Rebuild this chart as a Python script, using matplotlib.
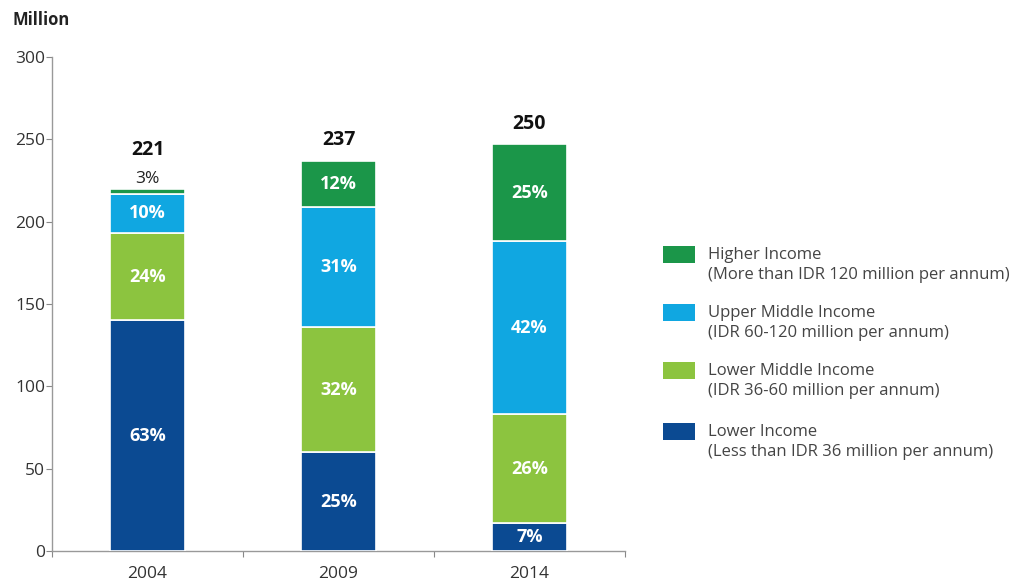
import matplotlib
matplotlib.use('Agg')
import matplotlib.pyplot as plt
from matplotlib.patches import Rectangle
import numpy as np

plt.rcParams['font.family'] = ['Open Sans', 'DejaVu Sans']

years = ['2004', '2009', '2014']
totals = [221, 237, 250]

# segment heights (million), bottom to top
lower = [140, 60, 17]
lower_mid = [53, 76, 66]
upper_mid = [24, 73, 105]
higher = [3, 28, 59]

pct_lower = ['63%', '25%', '7%']
pct_lower_mid = ['24%', '32%', '26%']
pct_upper_mid = ['10%', '31%', '42%']
pct_higher = ['3%', '12%', '25%']

series = [
    ('Lower Income', '(Less than IDR 36 million per annum)', lower, pct_lower, '#0b4a92'),
    ('Lower Middle Income', '(IDR 36-60 million per annum)', lower_mid, pct_lower_mid, '#8cc43f'),
    ('Upper Middle Income', '(IDR 60-120 million per annum)', upper_mid, pct_upper_mid, '#10a7e1'),
    ('Higher Income', '(More than IDR 120 million per annum)', higher, pct_higher, '#1b9649'),
]

W, H = 1024, 583
fig = plt.figure(figsize=(W / 100, H / 100), dpi=100)
fig.patch.set_facecolor('white')
ax = fig.add_axes([52 / W, 1 - 551 / H, (625 - 52) / W, (551 - 57) / H])

x = np.arange(len(years))
bottom = np.zeros(len(years))
for name, sub, vals, pcts, col in series:
    ax.bar(x, vals, width=0.39, bottom=bottom, color=col,
           edgecolor='white', linewidth=1.2, zorder=3)
    for i, (v, p) in enumerate(zip(vals, pcts)):
        if v >= 10:
            ax.text(x[i], bottom[i] + v / 2, p, ha='center', va='center',
                    color='white', fontsize=13, fontweight='bold', zorder=4)
        else:
            ax.text(x[i], bottom[i] + v + 6, p, ha='center', va='center',
                    color='#222222', fontsize=12.5, zorder=4)
    bottom += np.array(vals)

for i, t in enumerate(totals):
    extra = 11 if i == 0 else 0
    ax.text(x[i], bottom[i] + 12.5 + extra, str(t), ha='center', va='center',
            fontsize=14, fontweight='bold', color='#111111')

ax.set_xlim(-0.5, 2.5)
ax.set_ylim(0, 300)
ax.set_yticks(np.arange(0, 301, 50))
ax.set_xticks([-0.5, 0.5, 1.5, 2.5])
ax.set_xticklabels([])
ax.set_xticks(x, minor=True)
ax.set_xticklabels(years, minor=True)
ax.tick_params(axis='x', which='minor', length=0, pad=11, labelsize=12.5, colors='#333333')
ax.tick_params(axis='x', which='major', length=4, color='#888888')
ax.tick_params(axis='y', length=4, color='#888888', labelsize=12.5, labelcolor='#333333', pad=1)
for s in ['top', 'right']:
    ax.spines[s].set_visible(False)
for s in ['left', 'bottom']:
    ax.spines[s].set_color('#999999')
    ax.spines[s].set_linewidth(1.0)

fig.text(12 / W, 1 - 20 / H, 'Million', fontsize=12, fontweight='bold',
         color='#222222', ha='left', va='center')

# legend drawn by hand (patch aligned with first text line)
rows_y = [255, 313, 371, 432]
for (name, sub, vals, pcts, col), yy in zip(series[::-1], rows_y):
    fig.patches.append(Rectangle((663 / W, 1 - (yy + 8) / H), 32 / W, 17 / H,
                                 facecolor=col, edgecolor='none',
                                 transform=fig.transFigure, figure=fig))
    fig.text(708 / W, 1 - yy / H, name, fontsize=12, color='#444444',
             ha='left', va='center')
    fig.text(708 / W, 1 - (yy + 20) / H, sub, fontsize=12, color='#444444',
             ha='left', va='center')

fig.savefig('out.png', dpi=100, facecolor='white')
